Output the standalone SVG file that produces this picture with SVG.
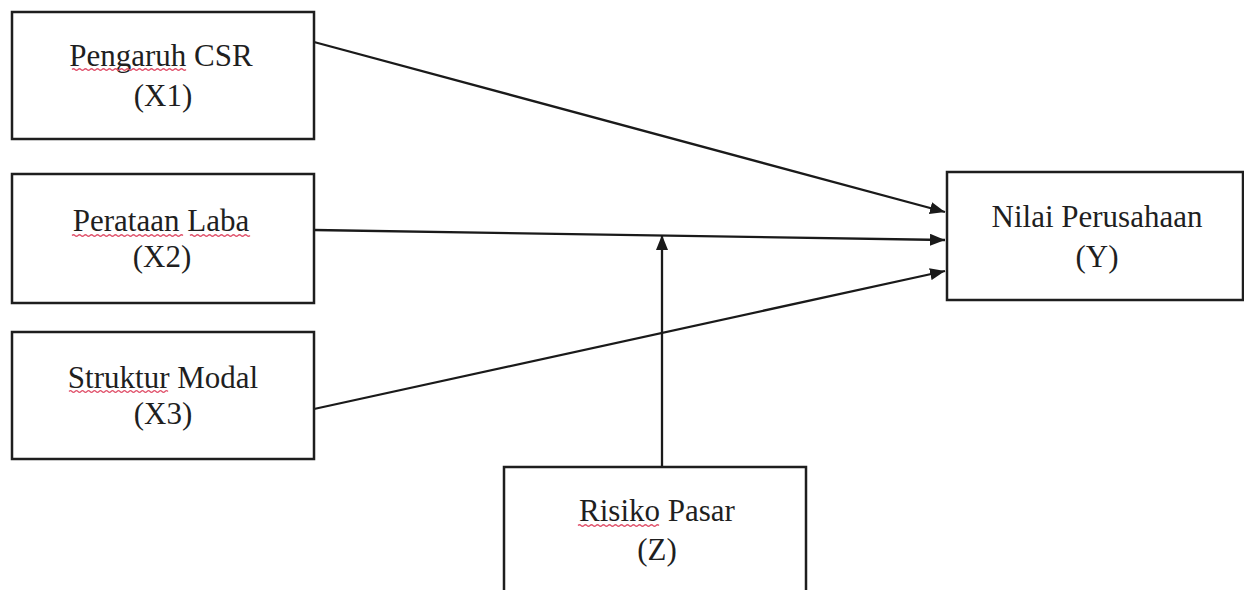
<svg xmlns="http://www.w3.org/2000/svg" width="1244" height="590" viewBox="0 0 1244 590">
  <style>
    .box { fill: #ffffff; stroke: #1e1e1e; stroke-width: 2.5; }
    .lbl { font-family: "Liberation Serif", "Times New Roman", serif; font-size: 31px; fill: #1f1f1f; text-anchor: middle; }
    .edge { stroke: #1a1a1a; stroke-width: 2.3; fill: none; marker-end: url(#arrow); }
    .squiggle { stroke: #e0506a; stroke-width: 1.2; fill: none; }
  </style>
  <defs>
    <marker id="arrow" viewBox="0 0 15 12" refX="15" refY="6" markerWidth="15" markerHeight="12" markerUnits="userSpaceOnUse" orient="auto">
      <path d="M0,0 L15,6 L0,12 Z" fill="#1a1a1a"/>
    </marker>
  </defs>
  <rect width="1244" height="590" fill="#ffffff"/>

  <!-- connectors -->
  <g id="connectors">
    <line class="edge" x1="314" y1="42" x2="945" y2="212"/>
    <line class="edge" x1="314" y1="230" x2="945" y2="240"/>
    <line class="edge" x1="314" y1="409" x2="945" y2="271"/>
    <line class="edge" x1="662" y1="467" x2="662" y2="235"/>
  </g>

  <!-- X1 -->
  <g id="node-x1">
    <rect class="box" x="12" y="12" width="302" height="127"/>
    <text class="lbl" x="161" y="65.5">Pengaruh CSR</text>
    <text class="lbl" x="163" y="106">(X1)</text>
    <path class="squiggle" d="M72,69.5 q1.5,-1.5 3,0 t3,0 t3,0 t3,0 t3,0 t3,0 t3,0 t3,0 t3,0 t3,0 t3,0 t3,0 t3,0 t3,0 t3,0 t3,0 t3,0 t3,0 t3,0 t3,0 t3,0 t3,0 t3,0 t3,0 t3,0 t3,0 t3,0 t3,0 t3,0 t3,0 t3,0 t3,0 t3,0 t3,0 t3,0 t3,0 t3,0 t3,0"/>
  </g>

  <!-- X2 -->
  <g id="node-x2">
    <rect class="box" x="12" y="174" width="302" height="129"/>
    <text class="lbl" x="161" y="230.5">Perataan Laba</text>
    <text class="lbl" x="162" y="267">(X2)</text>
    <path class="squiggle" d="M72,235.5 q1.5,-1.5 3,0 t3,0 t3,0 t3,0 t3,0 t3,0 t3,0 t3,0 t3,0 t3,0 t3,0 t3,0 t3,0 t3,0 t3,0 t3,0 t3,0 t3,0 t3,0 t3,0 t3,0 t3,0 t3,0 t3,0 t3,0 t3,0 t3,0 t3,0 t3,0 t3,0 t3,0 t3,0 t3,0 t3,0 t3,0 t3,0 t3,0"/>
    <path class="squiggle" d="M190,235.5 q1.5,-1.5 3,0 t3,0 t3,0 t3,0 t3,0 t3,0 t3,0 t3,0 t3,0 t3,0 t3,0 t3,0 t3,0 t3,0 t3,0 t3,0 t3,0 t3,0 t3,0 t3,0"/>
  </g>

  <!-- X3 -->
  <g id="node-x3">
    <rect class="box" x="12" y="332" width="302" height="127"/>
    <text class="lbl" x="163" y="388">Struktur Modal</text>
    <text class="lbl" x="163" y="424">(X3)</text>
    <path class="squiggle" d="M69,391.5 q1.5,-1.5 3,0 t3,0 t3,0 t3,0 t3,0 t3,0 t3,0 t3,0 t3,0 t3,0 t3,0 t3,0 t3,0 t3,0 t3,0 t3,0 t3,0 t3,0 t3,0 t3,0 t3,0 t3,0 t3,0 t3,0 t3,0 t3,0 t3,0 t3,0 t3,0 t3,0 t3,0 t3,0 t3,0"/>
  </g>

  <!-- Y -->
  <g id="node-y">
    <rect class="box" x="947" y="172" width="296" height="128"/>
    <text class="lbl" x="1097" y="227">Nilai Perusahaan</text>
    <text class="lbl" x="1097" y="267">(Y)</text>
  </g>

  <!-- Z -->
  <g id="node-z">
    <rect class="box" x="504" y="467" width="302" height="140"/>
    <text class="lbl" x="657" y="521">Risiko Pasar</text>
    <text class="lbl" x="657" y="560">(Z)</text>
    <path class="squiggle" d="M578,525.5 q1.5,-1.5 3,0 t3,0 t3,0 t3,0 t3,0 t3,0 t3,0 t3,0 t3,0 t3,0 t3,0 t3,0 t3,0 t3,0 t3,0 t3,0 t3,0 t3,0 t3,0 t3,0 t3,0 t3,0 t3,0 t3,0 t3,0 t3,0 t3,0"/>
  </g>
</svg>
